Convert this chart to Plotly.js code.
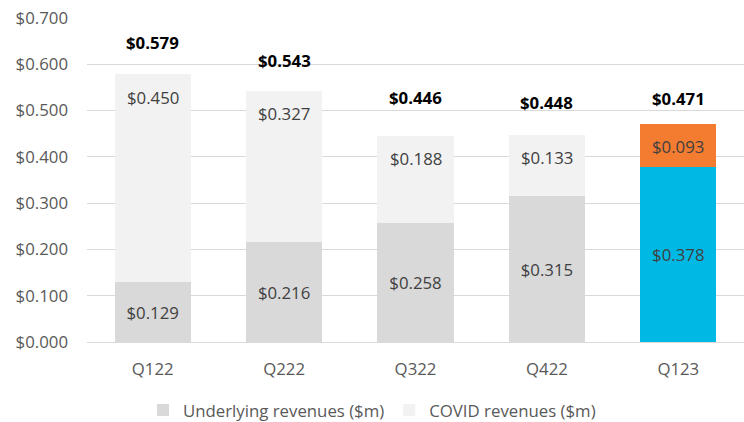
<!DOCTYPE html>
<html>
<head>
<meta charset="utf-8">
<script src="https://cdn.plot.ly/plotly-3.0.1.min.js"></script>
<style>html,body{margin:0;padding:0;background:#fff;}#chart{width:744px;height:422px;}</style>
</head>
<body>
<div id="chart"></div>
<script>
var categories = ["Q122", "Q222", "Q322", "Q422", "Q123"];
var underlying = [0.129, 0.216, 0.258, 0.315, 0.378];
var covid = [0.450, 0.327, 0.188, 0.133, 0.093];
var totals = [0.579, 0.543, 0.446, 0.448, 0.471];

var fontFam = "'Open Sans', 'Liberation Sans', sans-serif";
var fs = 16.8;
var underColors = categories.map(function (c, i) { return i === 4 ? "#00B8E4" : "#D9D9D9"; });
var covidColors = categories.map(function (c, i) { return i === 4 ? "#F47C31" : "#F2F2F2"; });

function fmt(v) { return "$" + v.toFixed(3); }

var traces = [
  {
    type: "bar", name: "Underlying revenues ($m)", x: categories, y: underlying,
    marker: { color: underColors },
    text: underlying.map(fmt), textposition: "inside", insidetextanchor: "middle",
    textfont: { family: fontFam, size: fs, color: "#404040" },
    hoverinfo: "skip"
  },
  {
    type: "bar", name: "COVID revenues ($m)", x: categories, y: covid,
    marker: { color: covidColors },
    hoverinfo: "skip"
  }
];

var annotations = [];
var totalShift = [32, 30, 38, 32, 25];
categories.forEach(function (c, i) {
  annotations.push({
    x: c, y: totals[i], xref: "x", yref: "y", text: "<b>" + fmt(totals[i]) + "</b>",
    showarrow: false, yshift: totalShift[i],
    font: { family: fontFam, size: fs, color: "#000000" }
  });
  annotations.push({
    x: c, y: totals[i], xref: "x", yref: "y", text: fmt(covid[i]),
    showarrow: false, yshift: -23,
    font: { family: fontFam, size: fs, color: "#404040" }
  });
});

var layout = {
  width: 744, height: 422,
  margin: { l: 87, r: 0, t: 18, b: 80, autoexpand: false },
  paper_bgcolor: "#ffffff", plot_bgcolor: "#ffffff",
  barmode: "stack", bargap: 0.42,
  font: { family: fontFam, size: fs, color: "#595959" },
  showlegend: true,
  legend: { orientation: "h", x: 0.5, xanchor: "center", xref: "container", y: 0.028, yref: "container", yanchor: "middle",
            font: { family: fontFam, size: fs, color: "#595959" }, traceorder: "normal" },
  xaxis: { type: "category", showgrid: false, showline: true, linecolor: "#D9D9D9", linewidth: 1,
           ticks: "", ticklabelstandoff: 12, tickfont: { family: fontFam, size: fs, color: "#595959" }, fixedrange: true },
  yaxis: { range: [0, 0.7], dtick: 0.1, tick0: 0, tickprefix: "$", tickformat: ".3f",
           showgrid: true, gridcolor: "#D9D9D9", gridwidth: 1, zeroline: false, showline: false,
           ticks: "", ticklabelstandoff: 18, tickfont: { family: fontFam, size: fs, color: "#595959" }, fixedrange: true },
  annotations: annotations
};

Plotly.newPlot("chart", traces, layout, { displayModeBar: false, staticPlot: true });
</script>
</body>
</html>
